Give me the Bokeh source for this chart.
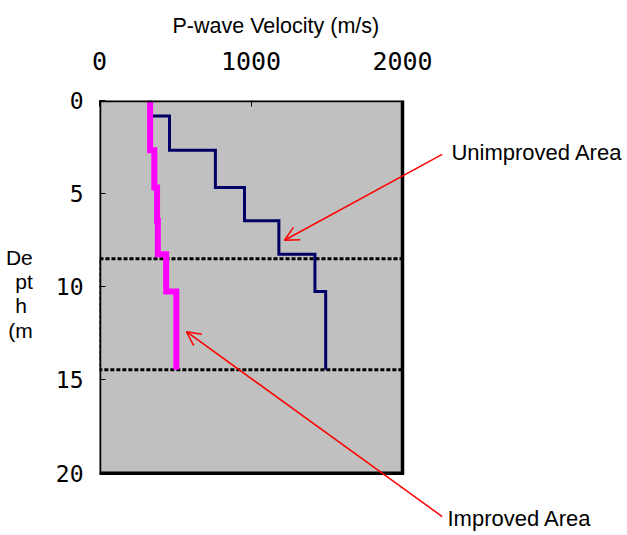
from bokeh.plotting import figure
from bokeh.models import Range1d, FixedTicker, Label, Arrow, OpenHead, Title
from bokeh.embed import file_html
from bokeh.resources import INLINE

# ---- data ----
layer_tops = [0, 0.83, 2.67, 4.67, 6.46, 8.25, 10.25]
bottom_depth = 14.45
unimproved_v = [334, 462, 765, 957, 1184, 1422, 1493]
improved_v = [334, 334, 362, 380, 385, 440, 507]
zone_top, zone_bottom = 8.5, 14.45
x_ticks = [0, 1000, 2000]
y_ticks = [0, 5, 10, 15, 20]
x_max, y_max = 2000, 20


def step_profile(tops, bottom, vel):
    xs, ys = [], []
    bounds = list(tops[1:]) + [bottom]
    for t, b, v in zip(tops, bounds, vel):
        xs += [v, v]
        ys += [t, b]
    return xs, ys


W, H = 627, 535
left, top = 99, 99
box_w, box_h = 303, 373.5          # pixel size of the grey chart box
frame_w, frame_h = W - left, H - top

p = figure(width=W, height=H, output_backend="svg", toolbar_location=None,
           x_range=Range1d(0, x_max * frame_w / box_w),
           y_range=Range1d(y_max * frame_h / box_h, 0),
           x_axis_location="above", y_axis_location="left",
           min_border_left=left, min_border_right=0, min_border_top=top, min_border_bottom=0)

p.background_fill_color = "white"
p.border_fill_color = "white"
p.outline_line_color = None
p.grid.visible = False

xa = p.xaxis[0]
ya = p.yaxis[0]
for ax in (xa, ya):
    ax.axis_line_color = None
    ax.major_tick_in = 6
    ax.major_tick_out = 0
    ax.minor_tick_line_color = None
    ax.major_tick_line_color = "black"
    ax.major_label_text_color = "black"
    ax.major_label_text_font = "DejaVu Sans Mono"
xa.ticker = FixedTicker(ticks=x_ticks)
ya.ticker = FixedTicker(ticks=y_ticks)
xa.bounds = (0, x_max)
ya.bounds = (0, y_max)
xa.major_label_text_font_size = "25px"
ya.major_label_text_font_size = "23px"
xa.major_label_standoff = 31
ya.major_label_standoff = 16

p.add_layout(Title(text="P-wave Velocity (m/s)", align="left", offset=73,
                   text_font="Liberation Sans", text_font_size="21.5px",
                   text_font_style="normal", text_color="black", standoff=22), "above")

ya.axis_label = "De\npt\nh\u00a0\n(m\n\n"
ya.axis_label_orientation = "horizontal"
ya.axis_label_text_align = "center"
ya.axis_label_text_font = "Liberation Sans"
ya.axis_label_text_font_size = "21px"
ya.axis_label_text_font_style = "normal"
ya.axis_label_text_color = "black"
ya.axis_label_text_line_height = 1.05
ya.axis_label_standoff = 20

# grey chart box
p.quad(left=[0], right=[x_max], top=[0], bottom=[y_max],
       fill_color="#c0c0c0", line_color=None)

# dotted zone
p.quad(left=[0], right=[x_max], top=[zone_top], bottom=[zone_bottom],
       fill_color=None, line_color="black", line_width=3, line_dash="4 2")

ux, uy = step_profile(layer_tops, bottom_depth, unimproved_v)
ix, iy = step_profile(layer_tops, bottom_depth, improved_v)
p.line(ux, uy, line_color="#000066", line_width=3, line_join="miter")
p.line(ix, iy, line_color="#ff00ff", line_width=6, line_join="miter")

# box border
p.quad(left=[0], right=[x_max], top=[0], bottom=[y_max],
       fill_color=None, line_color="black", line_width=3.5, line_join="miter")

# annotations
p.add_layout(Arrow(x_start=2262, y_start=2.89, x_end=1221, y_end=7.50,
                   line_color="red", line_width=1.5,
                   end=OpenHead(size=14, line_color="red", line_width=1.5)))
p.add_layout(Arrow(x_start=2262, y_start=22.33, x_end=574, y_end=12.41,
                   line_color="red", line_width=1.5,
                   end=OpenHead(size=14, line_color="red", line_width=1.5)))
p.add_layout(Label(x=2323, y=2.78, text="Unimproved Area", text_align="left",
                   text_baseline="middle", text_font="Liberation Sans",
                   text_font_size="22px", text_color="black"))
p.add_layout(Label(x=2297, y=22.44, text="Improved Area", text_align="left",
                   text_baseline="middle", text_font="Liberation Sans",
                   text_font_size="22px", text_color="black"))

open("out.html", "w").write(file_html(p, INLINE))
